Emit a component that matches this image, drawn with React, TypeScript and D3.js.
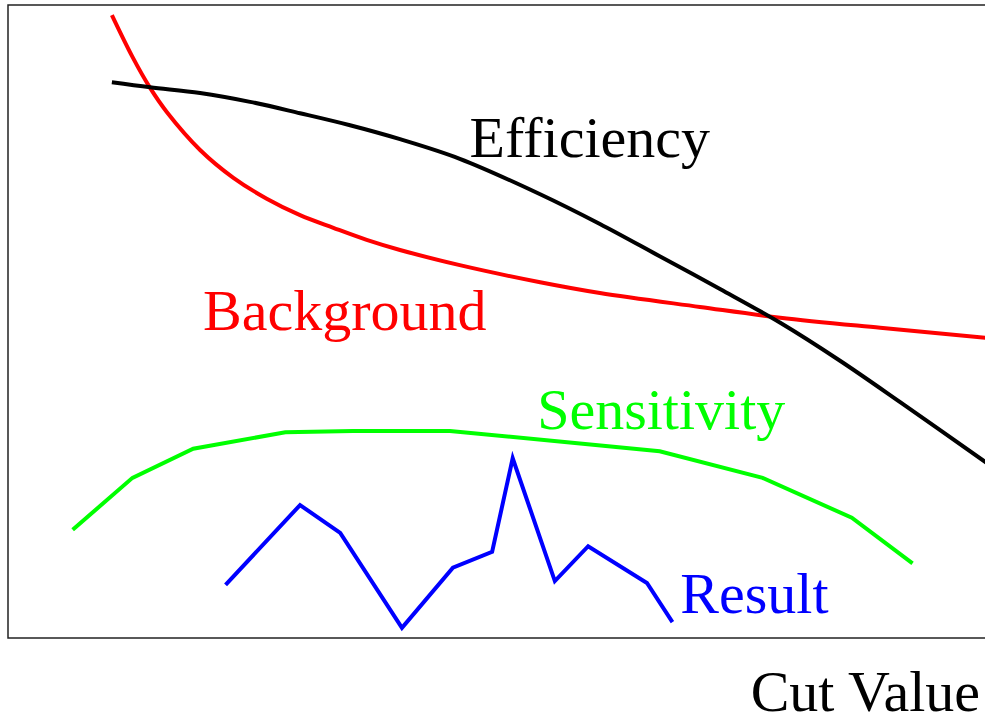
import * as d3 from 'd3'

// cut value (0-100) on x, arbitrary response (0-100) on y
const effX = [10.6, 14.5, 19.6, 24.7, 29.8, 34.9, 40.0, 46.1, 54.3, 60.4, 66.5, 72.7, 78.8, 84.9, 91.0, 100]
const effY = [87.8, 87.0, 86.1, 84.7, 82.9, 81.0, 78.8, 75.7, 70.1, 65.4, 60.3, 55.1, 49.8, 43.8, 37.3, 27.5]

const bkgX = [10.6, 12.7, 14.5, 16.2, 19.6, 23.0, 26.4, 29.8, 33.2, 36.6, 40.0, 46.1, 54.3, 60.4, 70.6, 78.8, 89.0, 100]
const bkgY = [98.4, 91.8, 86.9, 83.1, 77.1, 72.7, 69.4, 66.8, 64.8, 62.9, 61.3, 58.9, 56.2, 54.5, 52.3, 50.6, 49.0, 47.4]

const sensX = [6.6, 12.7, 18.9, 28.3, 35.2, 45.1, 66.5, 77.0, 86.1, 92.3]
const sensY = [17.1, 25.3, 29.9, 32.5, 32.7, 32.7, 29.5, 25.3, 19.0, 11.8]

const resX = [22.2, 29.8, 33.9, 40.2, 45.4, 49.4, 51.5, 55.8, 59.2, 65.2, 67.8]
const resY = [8.4, 21.0, 16.6, 1.6, 11.1, 13.6, 28.4, 9.0, 14.5, 8.7, 2.5]

const W = 985
const H = 723

export default function App() {
    const x = d3.scaleLinear().domain([0, 100]).range([8, 988])
    const y = d3.scaleLinear().domain([0, 100]).range([638, 5])

    const zip = (xs: number[], ys: number[]) => xs.map((v, i) => [v, ys[i]] as [number, number])

    const smooth = d3.line<[number, number]>()
        .x(d => x(d[0]))
        .y(d => y(d[1]))
        .curve(d3.curveCatmullRom.alpha(0.5))

    const straight = d3.line<[number, number]>()
        .x(d => x(d[0]))
        .y(d => y(d[1]))

    const font = '"Liberation Serif", "Times New Roman", serif'

    return (
        <svg width={W} height={H} style={{ position: 'absolute', left: 0, top: 0, background: '#fff' }}>
            <rect x={x(0)} y={y(100)} width={x(100) - x(0) + 10} height={y(0) - y(100)}
                  fill="none" stroke="#222" strokeWidth={1.5} />

            <path d={smooth(zip(bkgX, bkgY)) ?? ''} fill="none" stroke="#ff0000" strokeWidth={4} />
            <path d={smooth(zip(effX, effY)) ?? ''} fill="none" stroke="#000" strokeWidth={4} />
            <path d={straight(zip(sensX, sensY)) ?? ''} fill="none" stroke="#00ff00" strokeWidth={4} />
            <path d={straight(zip(resX, resY)) ?? ''} fill="none" stroke="#0000ff" strokeWidth={4} />

            <g fontFamily={font} fontSize={58}>
                <text x={x(47.1)} y={y(76.0)} fill="#000">Efficiency</text>
                <text x={x(19.9)} y={y(48.7)} fill="#ff0000">Background</text>
                <text x={x(54.0)} y={y(33.0)} fill="#00ff00">Sensitivity</text>
                <text x={x(68.6)} y={y(3.9)} fill="#0000ff">Result</text>
                <text x={980} y={711} textAnchor="end" fill="#000">Cut Value</text>
            </g>
        </svg>
    )
}
